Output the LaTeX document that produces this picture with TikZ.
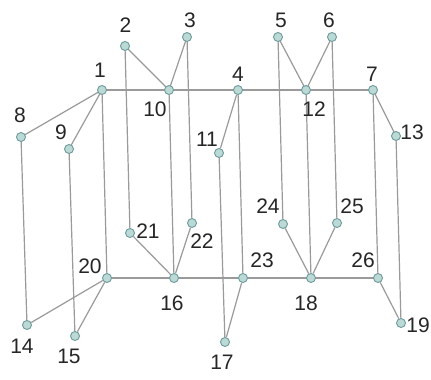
\documentclass[tikz,border=0pt]{standalone}
\usepackage{fontspec}
\setmainfont{Liberation Sans}
\usetikzlibrary{backgrounds}
\begin{document}
\begin{tikzpicture}[x=1pt,y=-1pt,
  vtx/.style={circle,draw=vborder,fill=vfill,line width=0.9pt,minimum size=9pt,inner sep=0pt},
  lbl/.style={inner sep=0pt,text=black!85,font=\fontsize{21}{22}\selectfont},
  edge/.style={draw=edgegray,line width=1.2pt}]
\definecolor{vborder}{HTML}{6E9A9E}
\definecolor{vfill}{HTML}{BBDAD6}
\definecolor{edgegray}{HTML}{9A9A9A}
\useasboundingbox (0,0) rectangle (431,380);
% vertices
\node[vtx] (n1) at (102,90) {};
\node[vtx] (n2) at (125,46) {};
\node[vtx] (n3) at (187,37) {};
\node[vtx] (n4) at (238,90) {};
\node[vtx] (n5) at (278,37) {};
\node[vtx] (n6) at (332,37) {};
\node[vtx] (n7) at (373,90) {};
\node[vtx] (n8) at (21,137) {};
\node[vtx] (n9) at (69,149) {};
\node[vtx] (n10) at (169,90) {};
\node[vtx] (n11) at (219,153) {};
\node[vtx] (n12) at (306,90) {};
\node[vtx] (n13) at (396,136) {};
\node[vtx] (n14) at (27,325) {};
\node[vtx] (n15) at (75,336) {};
\node[vtx] (n16) at (174,278) {};
\node[vtx] (n17) at (225,342) {};
\node[vtx] (n18) at (311,278) {};
\node[vtx] (n19) at (401,323) {};
\node[vtx] (n20) at (107,278) {};
\node[vtx] (n21) at (130,233) {};
\node[vtx] (n22) at (192,223) {};
\node[vtx] (n23) at (243,278) {};
\node[vtx] (n24) at (283,224) {};
\node[vtx] (n25) at (337,223) {};
\node[vtx] (n26) at (378,278) {};
% edges
\begin{pgfonlayer}{background}
\fill[white] (0,0) rectangle (431,380);
\path[edge] (n1.center) -- (n10.center) -- (n4.center) -- (n12.center) -- (n7.center);
\path[edge] (n2.center) -- (n10.center) (n3.center) -- (n10.center) (n5.center) -- (n12.center) (n6.center) -- (n12.center);
\path[edge] (n1.center) -- (n8.center) (n1.center) -- (n9.center) (n7.center) -- (n13.center);
\path[edge] (n8) -- (n14) (n9) -- (n15) (n1) -- (n20) (n2) -- (n21)
  (n3) -- (n22) (n10) -- (n16) (n4) -- (n11) (n11) -- (n17) (n4) -- (n23)
  (n5) -- (n24) (n6) -- (n25) (n12) -- (n18) (n7) -- (n26) (n13) -- (n19);
\path[edge] (n20.center) -- (n16.center) -- (n23.center) -- (n18.center) -- (n26.center);
\path[edge] (n20) -- (n14) (n20) -- (n15) (n21) -- (n16) (n22) -- (n16)
  (n23) -- (n17) (n24) -- (n18) (n25) -- (n18) (n26) -- (n19);
\end{pgfonlayer}
% labels
\node[lbl] (l1) at (100,70) {1};
\node[lbl] (l2) at (125.5,25) {2};
\node[lbl] (l3) at (190,20) {3};
\node[lbl] (l4) at (238,74) {4};
\node[lbl] (l5) at (281,20) {5};
\node[lbl] (l6) at (329,20) {6};
\node[lbl] (l7) at (372,74) {7};
\node[lbl] (l8) at (20,115) {8};
\node[lbl] (l9) at (61,132) {9};
\node[lbl] (l10) at (155,109) {10};
\node[lbl] (l11) at (207,139) {11};
\node[lbl] (l12) at (314,109) {12};
\node[lbl] (l13) at (412,132) {13};
\node[lbl] (l14) at (22,346) {14};
\node[lbl] (l15) at (69,356) {15};
\node[lbl] (l16) at (172,303) {16};
\node[lbl] (l17) at (222,362) {17};
\node[lbl] (l18) at (306,303) {18};
\node[lbl] (l19) at (418,325) {19};
\node[lbl] (l20) at (90,266) {20};
\node[lbl] (l21) at (148,231) {21};
\node[lbl] (l22) at (202,241) {22};
\node[lbl] (l23) at (262,260) {23};
\node[lbl] (l24) at (268,206) {24};
\node[lbl] (l25) at (352,206) {25};
\node[lbl] (l26) at (363,260) {26};
\end{tikzpicture}
\end{document}
